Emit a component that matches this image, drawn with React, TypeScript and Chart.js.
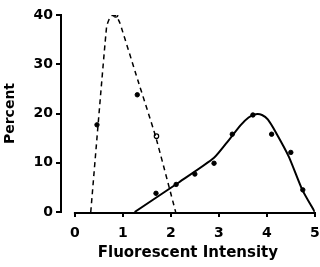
import { useEffect, useRef } from 'react';
import { Chart, registerables } from 'chart.js';

Chart.register(...registerables);

// Tick labels
const xTicks = [0, 1, 2, 3, 4, 5];
const yTicks = [0, 10, 20, 30, 40];

// Dashed fitted curve
const dashedFitX = [0.33, 0.66, 0.73, 0.8, 0.87, 0.94, 1.31, 1.68, 2.1];
const dashedFitY = [0, 37.6, 39.5, 40, 39.7, 38.3, 26.8, 15.4, 0];
// Dashed series measured points
const dashedFilledX = [0.46, 1.3];
const dashedFilledY = [17.7, 23.8];
const dashedOpenX = [0.85, 1.7];
const dashedOpenY = [40, 15.4];

// Solid fitted curve
const solidFitX = [1.245, 2.18, 2.9, 3.2, 3.45, 3.62, 3.77, 3.9, 4.02, 4.18, 4.46, 4.74, 5.0];
const solidFitY = [0, 6.1, 11.0, 14.5, 17.6, 19.2, 19.85, 19.7, 18.8, 16.3, 11.2, 4.5, 0];
// Solid series measured points
const solidPtsX = [1.69, 2.11, 2.5, 2.9, 3.28, 3.71, 4.1, 4.5, 4.75];
const solidPtsY = [3.8, 5.6, 7.7, 9.9, 15.8, 19.7, 15.8, 12.1, 4.5];

const zip = (xs: number[], ys: number[]) => xs.map((x, i) => ({ x, y: ys[i] }));

const FONT = 'DejaVu Sans';

const xAxisLine = {
  id: 'xAxisLine',
  afterDraw(chart: any) {
    const { ctx, chartArea, scales } = chart;
    const xs = scales.x;
    ctx.save();
    ctx.strokeStyle = '#000';
    ctx.lineWidth = 2;
    ctx.beginPath();
    const y = chartArea.bottom + 1;
    ctx.moveTo(xs.getPixelForValue(xTicks[0]) - 1, y);
    ctx.lineTo(xs.getPixelForValue(xTicks[xTicks.length - 1]) + 1, y);
    ctx.stroke();
    ctx.restore();
  },
};

export default function App() {
  const ref = useRef<HTMLCanvasElement>(null);
  useEffect(() => {
    if (!ref.current) return;
    const chart = new Chart(ref.current, {
      type: 'scatter',
      data: {
        datasets: [
          {
            data: zip(dashedFitX, dashedFitY),
            showLine: true,
            borderColor: '#000',
            borderWidth: 1.5,
            borderDash: [5, 4],
            pointRadius: 0,
            tension: 0.15,
          },
          {
            data: zip(solidFitX, solidFitY),
            showLine: true,
            borderColor: '#000',
            borderWidth: 2,
            pointRadius: 0,
            tension: 0.2,
          },
          {
            data: zip(dashedFilledX, dashedFilledY),
            showLine: false,
            pointRadius: 2.2,
            pointBackgroundColor: '#000',
            pointBorderColor: '#000',
            pointBorderWidth: 1,
          },
          {
            data: zip(dashedOpenX, dashedOpenY),
            showLine: false,
            pointRadius: 2.2,
            pointBackgroundColor: '#fff',
            pointBorderColor: '#000',
            pointBorderWidth: 1.2,
          },
          {
            data: zip(solidPtsX, solidPtsY),
            showLine: false,
            pointRadius: 2.2,
            pointBackgroundColor: '#000',
            pointBorderColor: '#000',
            pointBorderWidth: 1,
          },
        ],
      } as any,
      options: {
        animation: false,
        responsive: false,
        layout: { padding: { top: 15, right: 4, left: 0, bottom: 0 } },
        plugins: { legend: { display: false }, tooltip: { enabled: false } },
        scales: {
          x: {
            type: 'linear',
            min: -0.29,
            max: 5,
            afterBuildTicks: (s: any) => {
              s.ticks = xTicks.map((v) => ({ value: v }));
            },
            afterFit: (s: any) => {
              s.height = 55;
              s.paddingRight = 0;
              s.paddingLeft = 0;
            },
            border: { display: false },
            grid: {
              drawOnChartArea: false,
              drawTicks: true,
              tickLength: 5,
              color: '#000',
              lineWidth: 2,
            },
            ticks: {
              color: '#000',
              padding: 8,
              maxRotation: 0,
              font: { family: FONT, size: 14, weight: 'bold' },
            },
            title: {
              display: true,
              text: 'Fluorescent Intensity',
              color: '#000',
              padding: { top: 0, bottom: 5 },
              font: { family: FONT, size: 15, weight: 'bold' },
            },
          },
          y: {
            type: 'linear',
            min: 0,
            max: 40,
            afterBuildTicks: (s: any) => {
              s.ticks = yTicks.map((v) => ({ value: v }));
            },
            afterFit: (s: any) => {
              s.width = 61;
            },
            border: { display: true, color: '#000', width: 2 },
            grid: {
              drawOnChartArea: false,
              drawTicks: true,
              tickLength: 5,
              color: '#000',
              lineWidth: 2,
            },
            ticks: {
              color: '#000',
              padding: 3,
              font: { family: FONT, size: 14, weight: 'bold' },
            },
            title: {
              display: true,
              text: 'Percent',
              color: '#000',
              padding: { top: 2, bottom: 0 },
              font: { family: FONT, size: 14, weight: 'bold' },
            },
          },
        },
      } as any,
      plugins: [xAxisLine],
    });
    return () => chart.destroy();
  }, []);
  return (
    <div style={{ position: 'absolute', left: 0, top: 0, width: 320, height: 267, background: '#fff' }}>
      <canvas ref={ref} width={320} height={267} style={{ display: 'block' }} />
    </div>
  );
}
